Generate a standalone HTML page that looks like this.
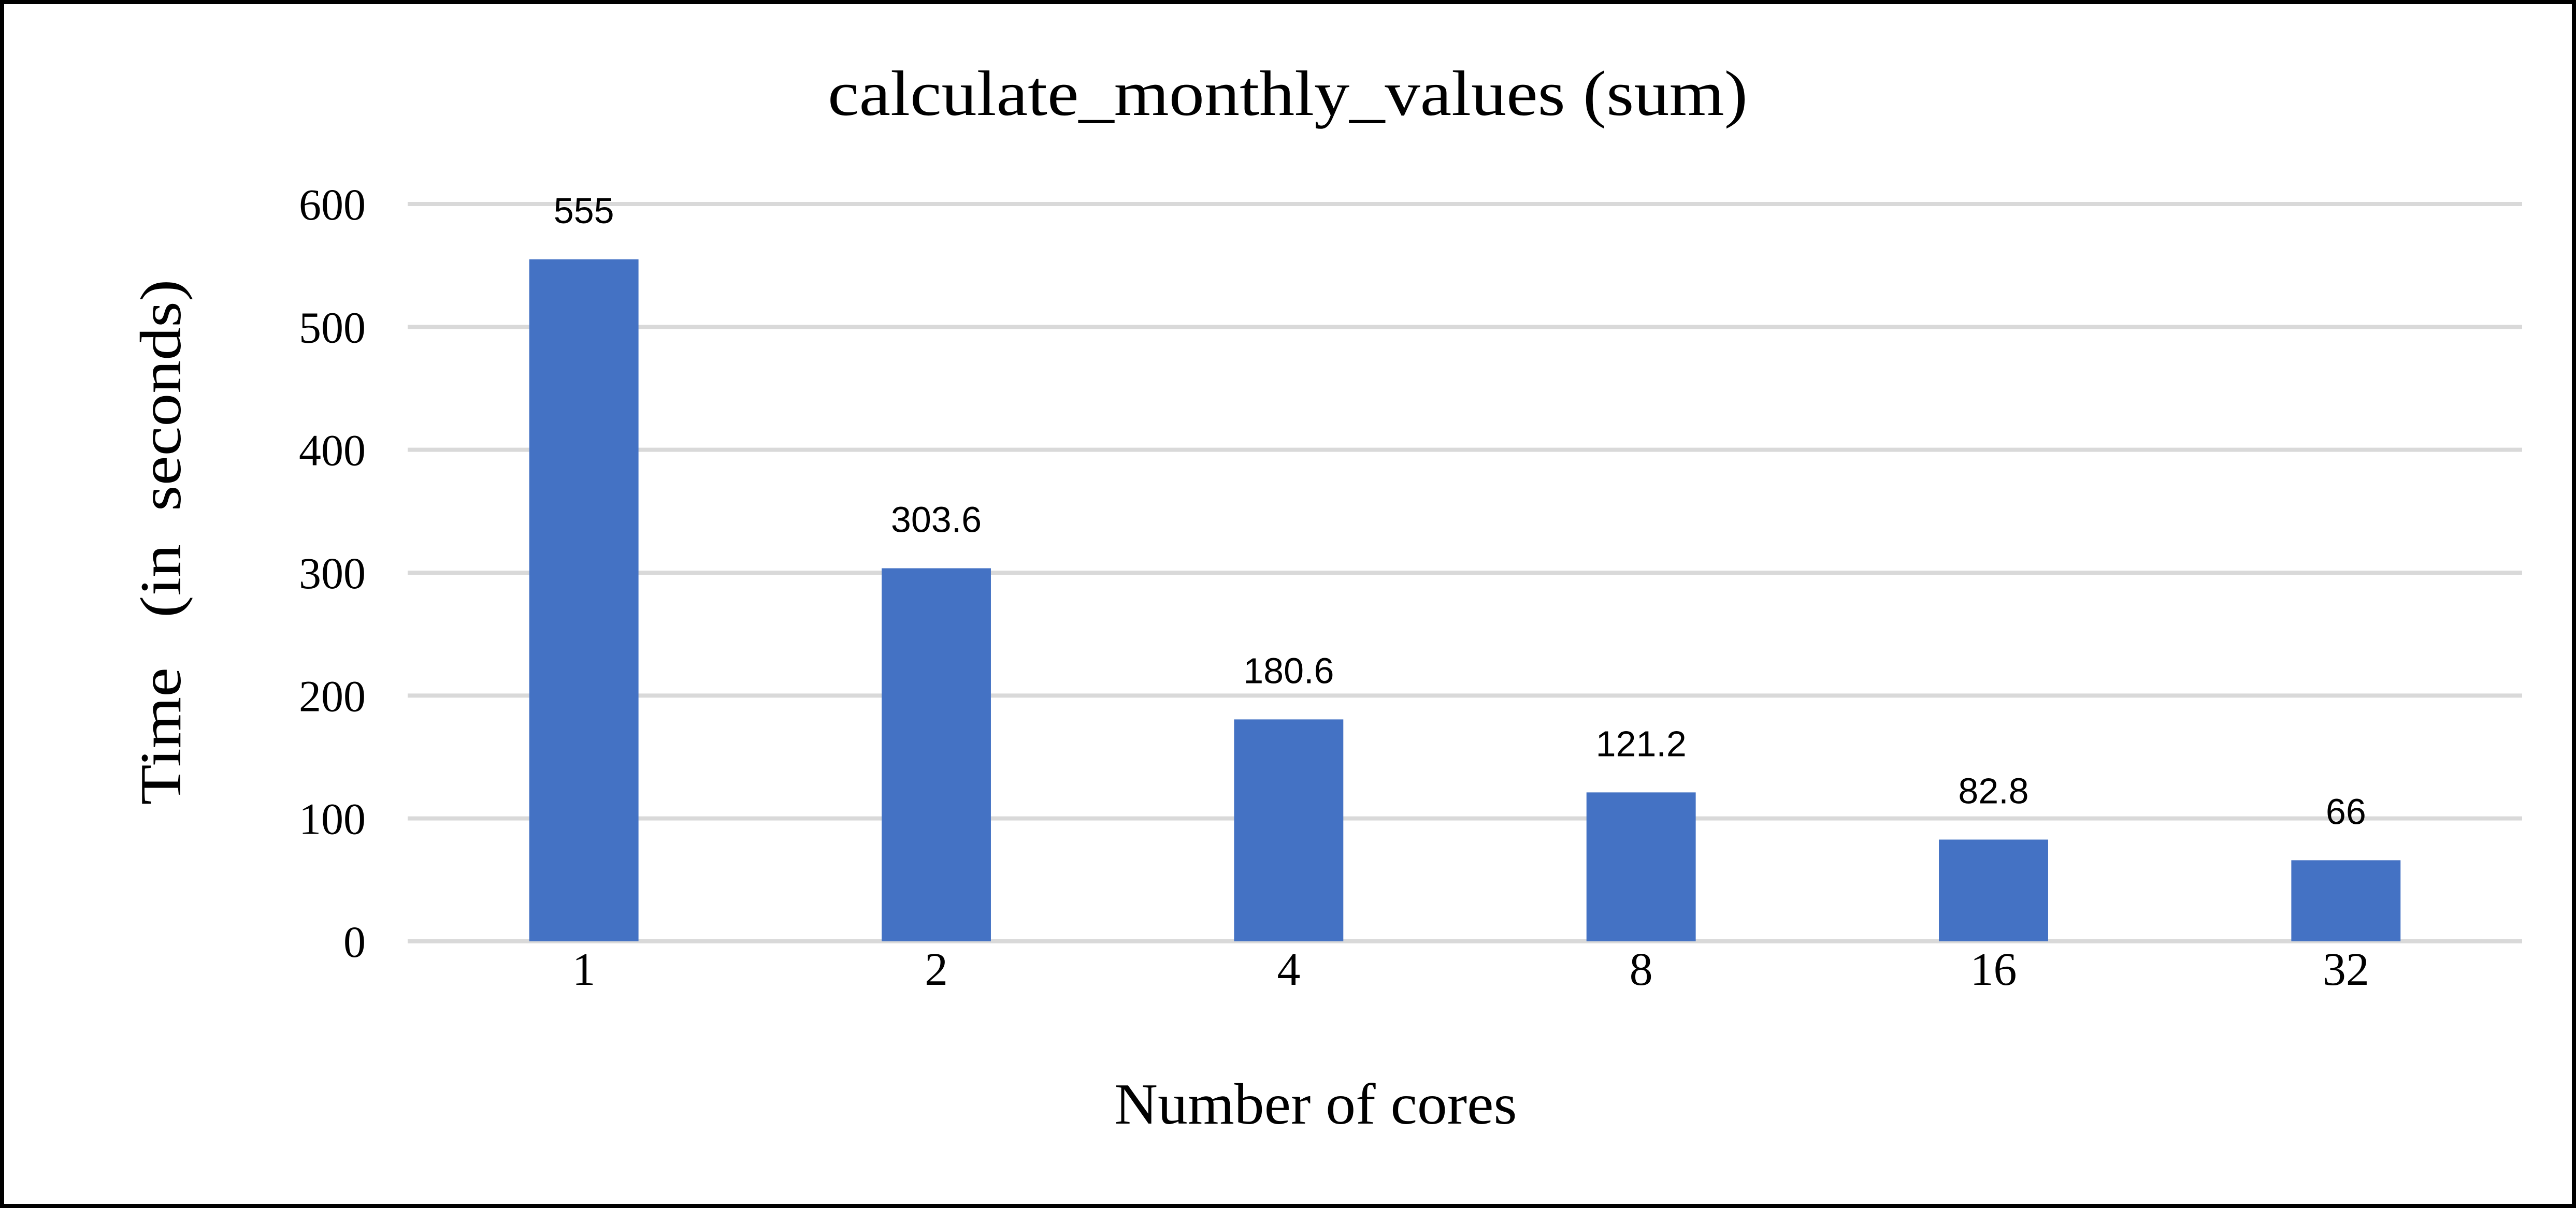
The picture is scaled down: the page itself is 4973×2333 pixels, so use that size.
<!DOCTYPE html>
<html><head><meta charset="utf-8"><style>
html,body{margin:0;padding:0;background:#fff}
svg{display:block}
</style></head><body>
<svg id="chart" width="4973" height="2333" viewBox="0 0 4973 2333" xmlns="http://www.w3.org/2000/svg">
<rect x="4" y="4" width="4965" height="2325" fill="#fff" stroke="#000" stroke-width="8"/>
<text x="2486" y="222" text-anchor="middle" font-family="Liberation Serif, serif" font-size="124" textLength="1776" lengthAdjust="spacingAndGlyphs">calculate_monthly_values  (sum)</text>
<g id="grid"></g>
<g id="yticks"></g>
<g id="bars"></g>
<g id="labels"></g>
<g id="xticks"></g>
<text x="2540" y="2170" text-anchor="middle" font-family="Liberation Serif, serif" font-size="112" textLength="777" lengthAdjust="spacingAndGlyphs">Number of cores</text>
<text x="0" y="0" transform="translate(348,1047) rotate(-90)" text-anchor="middle" font-family="Liberation Serif, serif" font-size="112" textLength="1015" lengthAdjust="spacingAndGlyphs" xml:space="preserve">Time   (in  seconds)</text>
</svg>
<script>
const categories = ["1","2","4","8","16","32"];
const values = [555, 303.6, 180.6, 121.2, 82.8, 66];
const valueLabels = ["555","303.6","180.6","121.2","82.8","66"];
const yTicks = [0,100,200,300,400,500,600];

const NS="http://www.w3.org/2000/svg";
const left=787, right=4869, y0=1818, yTop=394, yMax=600;
const band=(right-left)/categories.length;
const barW=band*0.31;
function yScale(v){return y0-(v/yMax)*(y0-yTop);}
function xCenter(i){return left+band*(i+0.5);}
function mk(tag,attrs,parent){const e=document.createElementNS(NS,tag);for(const k in attrs)e.setAttribute(k,attrs[k]);parent.appendChild(e);return e;}

const grid=document.getElementById('grid'),yt=document.getElementById('yticks');
yTicks.forEach(t=>{
  const y=yScale(t);
  const l=mk('line',{x1:left,x2:right,y1:y,y2:y,stroke:'#d9d9d9','stroke-width':8},grid);
  
  
  const tx=mk('text',{x:706,y:y+30,'text-anchor':'end','font-family':'Liberation Serif, serif','font-size':86},yt);
  
  
  tx.textContent=String(t);
});
const bars=document.getElementById('bars'),lab=document.getElementById('labels'),xt=document.getElementById('xticks');
values.forEach((v,i)=>{
  const cx=xCenter(i),top=yScale(v);
  const r=mk('rect',{x:cx-barW/2,y:top,width:barW,height:y0-top,fill:'#4472c4'},bars);
  
  
  const t=mk('text',{x:cx,y:top-70,'text-anchor':'middle','font-family':'Liberation Sans, sans-serif','font-size':70},lab);
  
  
  t.textContent=valueLabels[i];
  const x=mk('text',{x:cx,y:1902,'text-anchor':'middle','font-family':'Liberation Serif, serif','font-size':90},xt);
  
  
  x.textContent=categories[i];
});
</script>
</body></html>
